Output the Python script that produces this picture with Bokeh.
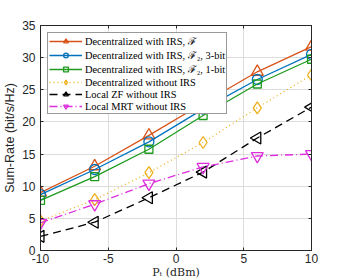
from bokeh.plotting import figure
from bokeh.models import Legend, LegendItem, Range1d, FixedTicker, LinearAxis, CustomLabelingPolicy
from bokeh.embed import file_html
from bokeh.resources import INLINE

pt = [-10, -6, -2, 2, 6, 10]
dec_irs = [9.0, 13.1, 17.9, 22.9, 27.8, 31.7]
dec_irs_3bit = [8.7, 12.6, 16.9, 22.0, 26.6, 30.5]
dec_irs_1bit = [7.8, 11.5, 15.75, 21.0, 25.9, 29.75]
dec_no_irs = [4.6, 7.9, 12.1, 16.8, 22.2, 27.3]
zf_no_irs = [2.2, 4.4, 8.2, 12.2, 17.5, 22.3]
mrt_no_irs = [4.3, 7.2, 10.4, 13.0, 14.7, 15.0]
labels = ["Decentralized with IRS, ℱ",
          "Decentralized with IRS, ℱ₂, 3-bit",
          "Decentralized with IRS, ℱ₂, 1-bit",
          "Decentralized without IRS",
          "Local ZF without IRS",
          "Local MRT without IRS"]
xticks = [-10, -5, 0, 5, 10]
yticks = [0, 5, 10, 15, 20, 25, 30, 35]

p = figure(output_backend="svg", toolbar_location=None,
           frame_width=271, frame_height=225,
           min_border_left=37, min_border_right=12, min_border_top=25, min_border_bottom=2,
           x_range=Range1d(-10, 10), y_range=Range1d(0, 35))

axc = "#262626"
series = [
    (dec_irs, "#D95319", "triangle", "solid"),
    (dec_irs_3bit, "#0072BD", "circle", "solid"),
    (dec_irs_1bit, "#1E9A1E", "square", "solid"),
    (dec_no_irs, "#EDB120", "diamond", "dotted"),
    (zf_no_irs, "#000000", "triangle", "dashed"),
    (mrt_no_irs, "#DD2EDD", "inverted_triangle", "dashdot"),
]
items = []
for (ys, col, mk, dash), lab in zip(series, labels):
    dd = {"solid": "solid", "dotted": "1 3", "dashed": "8 5", "dashdot": "8 3 1 3"}[dash]
    ln = p.line(pt, ys, line_color=col, line_width=1.3, line_dash=dd)
    sz = {"triangle": 12, "circle": 10, "square": 8, "diamond": 12, "inverted_triangle": 12}[mk]
    if mk == "triangle" and col == "#000000":
        sc = p.scatter(pt, ys, marker="triangle", size=sz, angle=1.5708,
                       line_color=col, fill_color=None, line_width=1.3)
    else:
        sc = p.scatter(pt, ys, marker=mk, size=sz, line_color=col,
                       fill_color=None, line_width=1.3)
    items.append(LegendItem(label=lab, renderers=[ln, sc]))

legend = Legend(items=items, location="top_left", margin=7, padding=1,
                spacing=0, label_height=12, glyph_height=12, glyph_width=33,
                label_standoff=3, label_text_font="Liberation Serif",
                label_text_font_size="10.4px", label_text_color="#000000",
                border_line_color="#333333", border_line_width=1,
                background_fill_color="white", background_fill_alpha=1.0)
p.add_layout(legend, "center")

top_ax = LinearAxis(ticker=FixedTicker(ticks=xticks),
                    major_label_policy=CustomLabelingPolicy(code="return new Set()"),
                    major_label_standoff=0)
right_ax = LinearAxis(ticker=FixedTicker(ticks=yticks),
                      major_label_policy=CustomLabelingPolicy(code="return new Set()"),
                      major_label_standoff=0)
p.add_layout(top_ax, "above")
p.add_layout(right_ax, "right")

p.below[0].ticker = FixedTicker(ticks=xticks)
p.left[0].ticker = FixedTicker(ticks=yticks)
for ax in p.xaxis + p.yaxis:
    ax.axis_line_color = axc
    ax.major_tick_line_color = axc
    ax.major_tick_in = 3
    ax.major_tick_out = 0
    ax.minor_tick_line_color = None
    ax.major_label_text_font = "Liberation Sans"
    ax.major_label_text_color = axc
for ax in (p.below[0], p.left[0]):
    ax.major_label_text_font_size = "12px"
    ax.major_label_standoff = 5
p.below[0].major_label_standoff = 3
p.below[0].major_label_overrides = {-10: "-10", -5: "-5"}

p.left[0].axis_label = "Sum-Rate (bit/s/Hz)"
p.left[0].axis_label_text_font = "Liberation Sans"
p.left[0].axis_label_text_font_style = "normal"
p.left[0].axis_label_text_font_size = "12.5px"
p.left[0].axis_label_text_color = axc
p.left[0].axis_label_standoff = 2
p.below[0].axis_label = "Pₜ (dBm)"
p.below[0].axis_label_text_font = "DejaVu Serif"
p.below[0].axis_label_text_font_style = "normal"
p.below[0].axis_label_text_font_size = "11px"
p.below[0].axis_label_text_color = axc
p.below[0].axis_label_standoff = 0

p.xgrid.grid_line_color = "#dcdcdc"
p.ygrid.grid_line_color = "#dcdcdc"
p.xgrid.ticker = FixedTicker(ticks=xticks)
p.ygrid.ticker = FixedTicker(ticks=yticks)
p.outline_line_color = axc
p.outline_line_width = 1
p.background_fill_color = "white"
p.border_fill_color = "white"

open("out.html", "w").write(file_html(p, INLINE))
